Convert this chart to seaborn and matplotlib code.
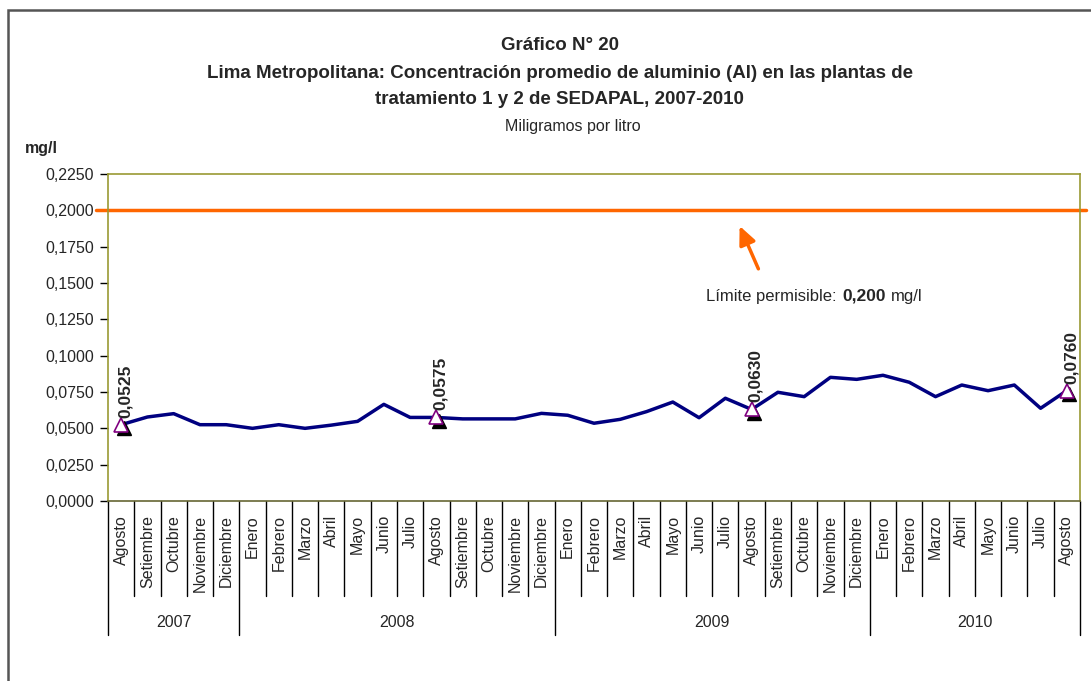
import matplotlib
matplotlib.use("Agg")
import matplotlib.pyplot as plt
import matplotlib.transforms as mtransforms
from matplotlib.patches import Rectangle
import numpy as np
import pandas as pd
import seaborn as sns

# data
years = ["2007", "2008", "2009", "2010"]
months_2007 = ["Agosto", "Setiembre", "Octubre", "Noviembre", "Diciembre"]
months_full = ["Enero", "Febrero", "Marzo", "Abril", "Mayo", "Junio", "Julio",
               "Agosto", "Setiembre", "Octubre", "Noviembre", "Diciembre"]
months_2010 = months_full[:8]

al_2007 = [0.0525, 0.0578, 0.0601, 0.0525, 0.0525]
al_2008 = [0.0500, 0.0525, 0.0500, 0.0522, 0.0548, 0.0665, 0.0575, 0.0575,
           0.0565, 0.0565, 0.0565, 0.0603]
al_2009 = [0.0590, 0.0535, 0.0562, 0.0615, 0.0681, 0.0573, 0.0707, 0.0630,
           0.0748, 0.0718, 0.0851, 0.0837]
al_2010 = [0.0865, 0.0817, 0.0718, 0.0798, 0.0759, 0.0798, 0.0638, 0.0760]
limite = 0.200

month_lists = [months_2007, months_full, months_full, months_2010]
value_lists = [al_2007, al_2008, al_2009, al_2010]

rows = []
for yr, ms, vs in zip(years, month_lists, value_lists):
    for m, v in zip(ms, vs):
        rows.append({"anio": yr, "mes": m, "valor": v})
df = pd.DataFrame(rows)
df["idx"] = range(len(df))

sns.set_style("white")
plt.rcParams["font.family"] = ["Liberation Sans", "DejaVu Sans"]

fig = plt.figure(figsize=(10.91, 6.81), dpi=100)
ax = fig.add_axes([108 / 1091, 1 - 501 / 681, (1080 - 108) / 1091, 327 / 681])

# outer frame
fig.patches.append(Rectangle((8 / 1091, -0.1), 1.2, 1.1 - 10 / 681, transform=fig.transFigure,
                             fill=False, edgecolor="#555555", linewidth=1.8))

# limit line
ax.axhline(limite, xmin=-0.012, xmax=1.006, color="#FF6600", linewidth=2.5, clip_on=False, zorder=2)

sns.lineplot(data=df, x="idx", y="valor", color="#000080", linewidth=2.5, ax=ax, zorder=3)

# labelled points (every August)
lab = df[df["mes"] == "Agosto"]
shadow = mtransforms.offset_copy(ax.transData, fig=fig, x=2.5, y=-3.5, units="dots")
ax.plot(lab["idx"], lab["valor"], linestyle="none", marker="^", markersize=9.5,
        color="black", transform=shadow, zorder=4, clip_on=False)
ax.plot(lab["idx"], lab["valor"], linestyle="none", marker="^", markersize=9.5,
        markerfacecolor="white", markeredgecolor="#800080", markeredgewidth=1.2,
        zorder=5, clip_on=False)
for _, r in lab.iterrows():
    ax.annotate(f"{r['valor']:.4f}".replace(".", ","), (r["idx"], r["valor"]),
                xytext=(3, 5), textcoords="offset points", rotation=90,
                ha="center", va="bottom", fontsize=12.5, fontweight="bold", zorder=6)

ax.set_xlim(-0.5, len(df) - 0.5)
ax.set_ylim(0, 0.225)
ax.set_yticks(np.arange(0, 0.2251, 0.025))
ax.yaxis.set_major_formatter(plt.FuncFormatter(lambda v, p: f"{v:.4f}".replace(".", ",")))
ax.tick_params(axis="y", direction="out", length=6, width=1, color="black",
               labelsize=11.5, pad=4, left=True)
ax.set_xticks(df["idx"])
ax.set_xticklabels(df["mes"], rotation=90, va="top", ha="center", fontsize=11.5)
ax.tick_params(axis="x", length=0, pad=10)
ax.set_xlabel("")
ax.set_ylabel("")
for s in ax.spines.values():
    s.set_color("#999933")
    s.set_linewidth(1.2)
ax.spines["bottom"].set_color("#666633")

# category dividers and year labels
trans = mtransforms.blended_transform_factory(ax.transData, ax.transAxes)
year_bounds = [0]
for vs in value_lists:
    year_bounds.append(year_bounds[-1] + len(vs))
for b in range(len(df) + 1):
    low = -0.41 if b in year_bounds else -0.29
    ax.plot([b - 0.5, b - 0.5], [0, low], color="black", linewidth=1,
            transform=trans, clip_on=False)
for yr, a, b in zip(years, year_bounds[:-1], year_bounds[1:]):
    ax.text((a + b - 1) / 2, -0.373, yr, transform=trans, ha="center", va="center", fontsize=11.5)

# annotation for the limit
ax.annotate("", xy=(23.5, 0.191), xytext=(24.3, 0.158),
            arrowprops=dict(arrowstyle="-|>,head_length=1.1,head_width=0.5",
                            color="#FF6600", lw=2.5))
t1 = ax.text(22.25, 0.141, "Límite permisible: ", fontsize=12, va="center", ha="left")
t2 = ax.annotate("0,200", xy=(1, 0.5), xycoords=t1, xytext=(1, 0), textcoords="offset points",
                 fontsize=12.5, fontweight="bold", va="center", ha="left")
ax.annotate("mg/l", xy=(1, 0.5), xycoords=t2, xytext=(4, 0), textcoords="offset points",
            fontsize=12, va="center", ha="left")

# titles
fig.text(0.513, 1 - 45 / 681, "Gráfico N° 20", ha="center", va="center",
         fontsize=13.5, fontweight="bold")
fig.text(0.513, 1 - 73 / 681, "Lima Metropolitana: Concentración promedio de aluminio (Al) en las plantas de",
         ha="center", va="center", fontsize=13.5, fontweight="bold")
fig.text(0.513, 1 - 100 / 681, "tratamiento 1 y 2 de SEDAPAL, 2007-2010", ha="center", va="center",
         fontsize=13.5, fontweight="bold")
fig.text(0.525, 1 - 127 / 681, "Miligramos por litro", ha="center", va="center", fontsize=11.5)
fig.text(25 / 1091, 1 - 148 / 681, "mg/l", ha="left", va="center", fontsize=11.5, fontweight="bold")

fig.savefig("out.png", dpi=100, facecolor="white")
